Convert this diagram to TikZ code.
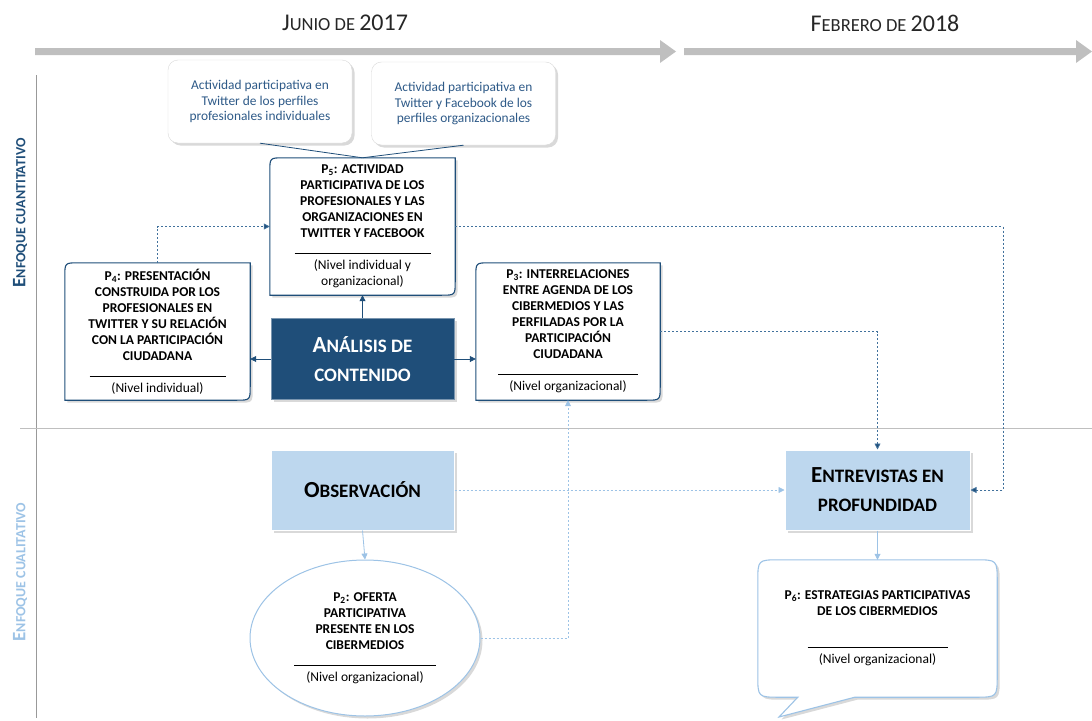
\documentclass[tikz,border=0pt]{standalone}
\usepackage{fontspec}
\setmainfont{Carlito}
\usetikzlibrary{shadows,calc,arrows.meta,shapes.geometric}
\pgfdeclarelayer{background}
\pgfsetlayers{background,main}
\definecolor{dkblue}{HTML}{1F4E79}
\definecolor{ltblue}{HTML}{BDD7EE}
\definecolor{ltline}{HTML}{9DC3E6}
\definecolor{midblue}{HTML}{41719C}
\definecolor{tlgray}{HTML}{BFBFBF}
\definecolor{txtblue}{HTML}{2E5A88}
\definecolor{hdrtext}{HTML}{262626}
\newcommand\scx[4]{{\fontsize{#1}{#1}\selectfont #3}{\fontsize{#2}{#2}\selectfont #4}}
\newcommand\pframe[1]{%
  \draw[pframestyle] ($(#1.north west)+(0,14)$) .. controls (#1.north west) .. ($(#1.north west)+(14,0)$)
    -- (#1.north east) -- ($(#1.south east)+(0,-14)$) .. controls (#1.south east) .. ($(#1.south east)+(-14,0)$)
    -- (#1.south west) -- cycle;}
\begin{document}
\begin{tikzpicture}[x=1pt,y=-1pt,
  myshadow/.style={drop shadow={shadow xshift=2.5pt,shadow yshift=-2.5pt,opacity=0.3}},
  pframestyle/.style={draw=dkblue,line width=1.1pt,fill=white,myshadow},
  pbox/.style={minimum width=185pt,minimum height=137pt,inner sep=0pt,align=center,
    font=\fontsize{13.5}{16}\selectfont\bfseries},
  callout/.style={draw=black!15,fill=white,rounded corners=10pt,myshadow,minimum width=184pt,
    minimum height=83pt,inner sep=0pt,align=center,text=txtblue,font=\fontsize{13.4}{15.5}\selectfont},
  method/.style={minimum width=183pt,minimum height=81pt,inner sep=0pt,align=center,myshadow,
    font=\fontsize{23}{29}\selectfont\bfseries},
  darrow/.style={draw=dkblue,line width=0.8pt,-{Triangle[length=6pt,width=6pt]}},
  ddash/.style={draw=midblue,line width=0.8pt,dash pattern=on 2pt off 2pt,-{Triangle[length=6pt,width=6pt,fill=dkblue]}},
  ldash/.style={draw=ltline,line width=0.8pt,dash pattern=on 2pt off 2pt,-{Triangle[length=6pt,width=6pt]}},
  larrow/.style={draw=ltline,line width=0.8pt,-{Triangle[length=6pt,width=6pt]}}]
\useasboundingbox (0,0) rectangle (1092,720);

% timeline
\fill[tlgray] (35,48) -- (660,48) -- (660,40) -- (676,51.5) -- (660,63) -- (660,55) -- (35,55) -- cycle;
\fill[tlgray] (684,48) -- (1076,48) -- (1076,40) -- (1092,51.5) -- (1076,63) -- (1076,55) -- (684,55) -- cycle;
\node[text=hdrtext,inner sep=0pt] (t1) at (345,23) {\scx{24}{18.5}{J}{UNIO DE }{\fontsize{24}{24}\selectfont 2017}};
\node[text=hdrtext,inner sep=0pt] (t2) at (885,23) {\scx{24}{18.5}{F}{EBRERO DE }{\fontsize{24}{24}\selectfont 2018}};

% frame lines
\draw[black!40,line width=0.8pt] (36,75) -- (36,718);
\draw[tlgray,line width=0.8pt] (20,428) -- (1092,428);
\node[rotate=90,text=dkblue,font=\bfseries,inner sep=0pt] (vq) at (20,213) {\scx{19}{14}{E}{NFOQUE CUANTITATIVO}};
\node[rotate=90,text=ltline,font=\bfseries,inner sep=0pt] (vl) at (20,572) {\scx{19}{14}{E}{NFOQUE CUALITATIVO}};

% callouts
\node[callout] (c1) at (260,101.5) {Actividad participativa en\\Twitter de los perfiles\\profesionales individuales};
\node[callout] (c2) at (463.5,103.5) {Actividad participativa en\\Twitter y Facebook de los\\perfiles organizacionales};

% P boxes
\node[pbox] (p5) at (362.5,226.5) {P\textsubscript{5}: ACTIVIDAD\\PARTICIPATIVA DE LOS\\PROFESIONALES Y LAS\\ORGANIZACIONES EN\\TWITTER Y FACEBOOK\\\rule{136pt}{0.6pt}\\{\mdseries (Nivel individual y}\\{\mdseries organizacional)}};
\node[pbox] (p4) at (157.5,331.5) {P\textsubscript{4}: PRESENTACIÓN\\CONSTRUIDA POR LOS\\PROFESIONALES EN\\TWITTER Y SU RELACIÓN\\CON LA PARTICIPACIÓN\\CIUDADANA\\\rule{136pt}{0.6pt}\\{\mdseries (Nivel individual)}};
\node[pbox,minimum width=184pt] (p3) at (568,331.5) {P\textsubscript{3}: INTERRELACIONES\\ENTRE AGENDA DE LOS\\CIBERMEDIOS Y LAS\\PERFILADAS POR LA\\PARTICIPACIÓN\\CIUDADANA\\\rule{140pt}{0.6pt}\\{\mdseries (Nivel organizacional)}};

% methods
\node[method,fill=dkblue,draw=dkblue!60,text=white] (ana) at (362.5,359) {\scx{23}{19}{A}{NÁLISIS DE}\\\scx{23}{19}{}{CONTENIDO}};
\node[method,fill=ltblue,draw=white,line width=1pt,minimum height=80pt,text=black] (obs) at (362.5,490) {\scx{23}{19}{O}{BSERVACIÓN}};
\node[method,fill=ltblue,draw=white,line width=1pt,minimum width=185pt,minimum height=80pt,text=black] (ent) at (877.5,490) {\scx{23}{19}{E}{NTREVISTAS EN}\\\scx{23}{19}{}{PROFUNDIDAD}};

% P2 ellipse
\node[ellipse,draw=ltline,line width=1pt,fill=white,myshadow,minimum width=230pt,minimum height=156pt,inner sep=0pt,align=center,font=\fontsize{13.5}{16}\selectfont\bfseries] (p2) at (365,638) {P\textsubscript{2}: OFERTA\\PARTICIPATIVA\\PRESENTE EN LOS\\CIBERMEDIOS\\\rule{142pt}{0.6pt}\\{\mdseries (Nivel organizacional)}};

% P6 callout
\node[minimum width=239pt,minimum height=137pt,inner sep=0pt,align=center,font=\fontsize{13.5}{16}\selectfont\bfseries] (p6) at (877.5,628.5) {P\textsubscript{6}: ESTRATEGIAS PARTICIPATIVAS\\DE LOS CIBERMEDIOS\\[16pt]\rule{140pt}{0.6pt}\\{\mdseries (Nivel organizacional)}};
\coordinate (p6tip) at (779,717);

\begin{pgfonlayer}{background}
\pframe{p5}
\pframe{p4}
\pframe{p3}
\draw[draw=ltline,line width=1.1pt,fill=white,myshadow]
  ($(p6.north west)+(0,22)$) .. controls (p6.north west) .. ($(p6.north west)+(22,0)$)
  -- ($(p6.north east)+(-22,0)$) .. controls (p6.north east) .. ($(p6.north east)+(0,22)$)
  -- ($(p6.south east)+(0,-22)$) .. controls (p6.south east) .. ($(p6.south east)+(-22,0)$)
  -- ($(p6.south west)+(97,0)$) -- (p6tip) -- ($(p6.south west)+(40,0)$)
  -- ($(p6.south west)+(22,0)$) .. controls (p6.south west) .. ($(p6.south west)+(0,-22)$) -- cycle;
\end{pgfonlayer}

% callout pointers
\draw[dkblue,line width=0.8pt] (c1.south) -- (p5.north);
\draw[dkblue,line width=0.8pt] (c2.south) -- (p5.north);

% connectors
\draw[darrow] (ana.north) -- (p5.south);
\draw[darrow] (ana.west) -- (ana.west -| p4.east);
\draw[darrow] (ana.east) -- (ana.east -| p3.west);
\draw[ddash] (p4.north) |- (p5.west);
\coordinate (k1) at (1003,0);
\draw[ddash] (p5.east) -- (p5.east -| k1) -- (k1 |- ent.east) -- (ent.east);
\draw[ddash] (p3.east) -| (ent.north);
\draw[ldash] (obs.east) -- (ent.west);
\draw[larrow] (obs.south) -- (p2.north);
\draw[ldash] (p2.east) -| (p3.south);
\draw[larrow] (ent.south) -- (p6.north);
\end{tikzpicture}
\end{document}
